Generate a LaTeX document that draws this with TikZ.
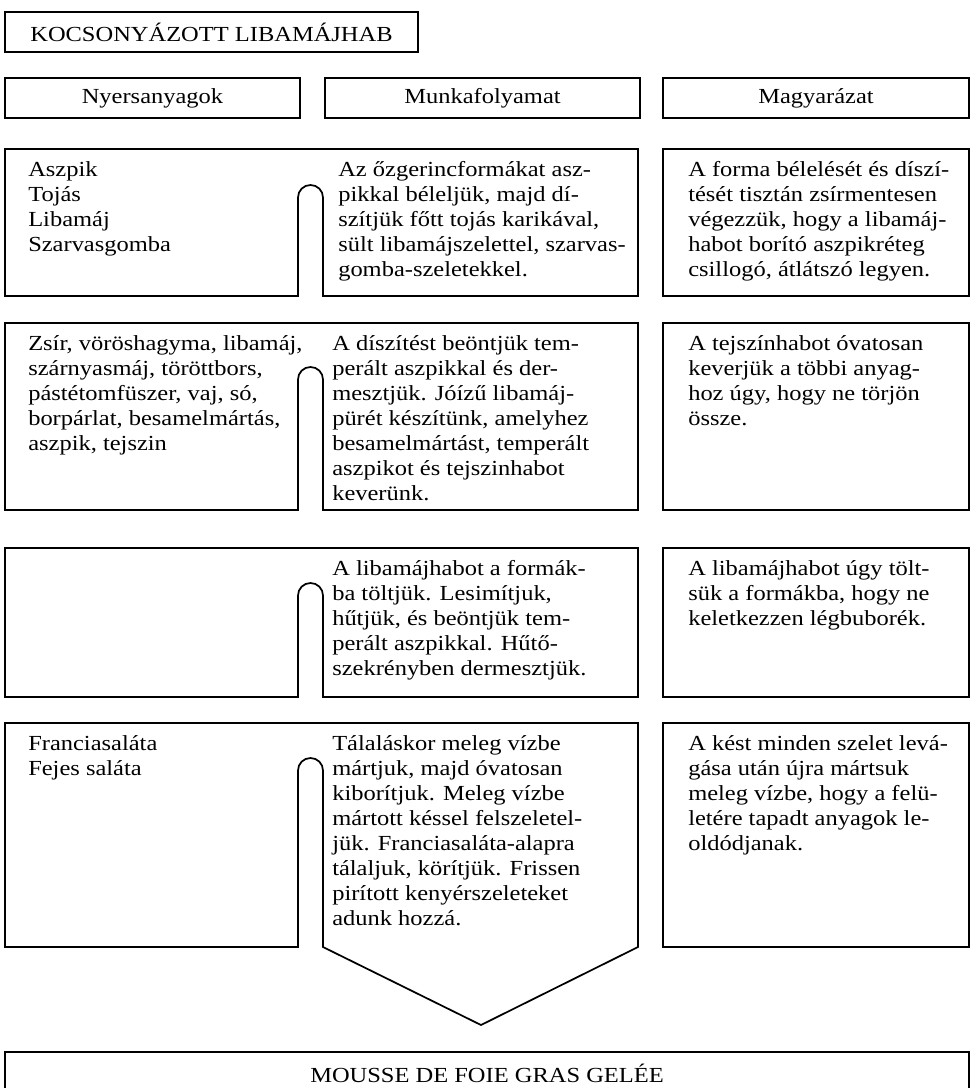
\documentclass[tikz,border=0pt]{standalone}
\usepackage{fontspec}
\setmainfont{Liberation Serif}[FakeStretch=1.14]
\begin{document}
\begin{tikzpicture}[x=0.75pt,y=0.75pt,
  frame/.style={draw=black, line width=1.3pt, line join=miter},
  txt/.style={font=\fontsize{16.1pt}{18.75pt}\selectfont},
  headbox/.style={frame, txt, inner sep=0pt, minimum height=30pt},
  bodytext/.style={txt, anchor=north west, inner sep=0pt, align=left,
    execute at begin node=\strut}]
\useasboundingbox (0,0) rectangle (974,-1088);

% title and column headings
\node[headbox, minimum width=309.75pt] (title) at (211.5,-32) {KOCSONYÁZOTT LIBAMÁJHAB};
\node[headbox, minimum width=221.25pt] (hraw)  at (152.5,-98) {Nyersanyagok};
\node[headbox, minimum width=236.25pt] (hproc) at (482.5,-98) {Munkafolyamat};
\node[headbox, minimum width=229.5pt]  (hnote) at (816,-98)   {Magyarázat};

% step 1
\draw[frame] (5,-149) -- (638,-149) -- (638,-296) -- (323,-296) -- (323,-197.5)
  arc[start angle=0, end angle=180, radius=12.5] -- (298,-296) -- (5,-296) -- cycle;
\draw[frame] (663,-149) rectangle (969,-296);
\node[bodytext] (raw1) at (28,-161.5) {Aszpik\\Tojás\\Libamáj\\Szarvasgomba};
\node[bodytext] (proc1) at (338,-161.5) {Az őzgerincformákat asz-\\pikkal béleljük, majd dí-\\szítjük főtt tojás karikával,\\sült libamájszelettel, szarvas-\\gomba-szeletekkel.};
\node[bodytext] (note1) at (688,-161.5) {A forma bélelését és díszí-\\tését tisztán zsírmentesen\\végezzük, hogy a libamáj-\\habot borító aszpikréteg\\csillogó, átlátszó legyen.};

% step 2
\draw[frame] (5,-323) -- (638,-323) -- (638,-510) -- (323,-510) -- (323,-379.5)
  arc[start angle=0, end angle=180, radius=12.5] -- (298,-510) -- (5,-510) -- cycle;
\draw[frame] (663,-323) rectangle (969,-510);
\node[bodytext] (raw2) at (28,-335.5) {Zsír, vöröshagyma, libamáj,\\szárnyasmáj, töröttbors,\\pástétomfüszer, vaj, só,\\borpárlat, besamelmártás,\\aszpik, tejszin};
\node[bodytext] (proc2) at (332,-335.5) {A díszítést beöntjük tem-\\perált aszpikkal és der-\\mesztjük. Jóízű libamáj-\\pürét készítünk, amelyhez\\besamelmártást, temperált\\aszpikot és tejszinhabot\\keverünk.};
\node[bodytext] (note2) at (688,-335.5) {A tejszínhabot óvatosan\\keverjük a többi anyag-\\hoz úgy, hogy ne törjön\\össze.};

% step 3
\draw[frame] (5,-548) -- (638,-548) -- (638,-697) -- (323,-697) -- (323,-595.5)
  arc[start angle=0, end angle=180, radius=12.5] -- (298,-697) -- (5,-697) -- cycle;
\draw[frame] (663,-548) rectangle (969,-697);
\node[bodytext] (proc3) at (332,-560.5) {A libamájhabot a formák-\\ba töltjük. Lesimítjuk,\\hűtjük, és beöntjük tem-\\perált aszpikkal. Hűtő-\\szekrényben dermesztjük.};
\node[bodytext] (note3) at (688,-560.5) {A libamájhabot úgy tölt-\\sük a formákba, hogy ne\\keletkezzen légbuborék.};

% step 4, the process box narrows to an arrow point
\draw[frame] (5,-723) -- (638,-723) -- (638,-947) -- (481,-1025) -- (323,-947) -- (323,-770.5)
  arc[start angle=0, end angle=180, radius=12.5] -- (298,-947) -- (5,-947) -- cycle;
\draw[frame] (663,-723) rectangle (969,-947);
\node[bodytext] (raw4) at (28,-735.5) {Franciasaláta\\Fejes saláta};
\node[bodytext] (proc4) at (332,-735.5) {Tálaláskor meleg vízbe\\mártjuk, majd óvatosan\\kiborítjuk. Meleg vízbe\\mártott késsel felszeletel-\\jük. Franciasaláta-alapra\\tálaljuk, körítjük. Frissen\\pirított kenyérszeleteket\\adunk hozzá.};
\node[bodytext] (note4) at (688,-735.5) {A kést minden szelet levá-\\gása után újra mártsuk\\meleg vízbe, hogy a felü-\\letére tapadt anyagok le-\\oldódjanak.};

% finished dish
\node[frame, txt, inner sep=0pt, minimum width=723pt, minimum height=31.5pt] (dish) at (487,-1073) {MOUSSE DE FOIE GRAS GELÉE};
\end{tikzpicture}
\end{document}
